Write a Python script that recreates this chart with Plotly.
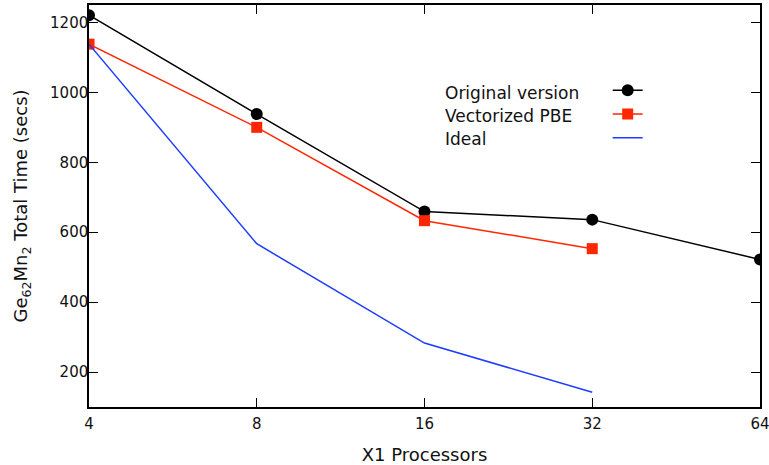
import plotly.graph_objects as go

processors = [4, 8, 16, 32, 64]
original = [1221, 938, 659, 636, 522]
vectorized = [1138, 900, 633, 553]
ideal = [1138, 567, 283, 142]
series_names = ["Original version", "Vectorized PBE", "Ideal"]
x_ticks = [4, 8, 16, 32, 64]
y_ticks = [200, 400, 600, 800, 1000, 1200]

FONT = "DejaVu Sans"
TXT = "#111"
fig = go.Figure()
fig.add_trace(go.Scatter(x=processors, y=original, mode="lines+markers", name="",
                         line=dict(color="black", width=1.5),
                         marker=dict(symbol="circle", size=12, color="black")))
fig.add_trace(go.Scatter(x=processors[:4], y=vectorized, mode="lines+markers", name="",
                         line=dict(color="#FF2600", width=1.5),
                         marker=dict(symbol="square", size=11, color="#FF2600")))
fig.add_trace(go.Scatter(x=processors[:4], y=ideal, mode="lines", name="",
                         line=dict(color="#1E3CFF", width=1.5)))

for i, name in enumerate(series_names):
    fig.add_annotation(text=name, xref="paper", yref="paper", x=0.5276, y=0.781 - i * 0.057,
                       xanchor="left", yanchor="middle", showarrow=False,
                       font=dict(family=FONT, size=17, color=TXT))

axis_common = dict(showline=True, linecolor="black", linewidth=1.5, mirror="allticks",
                   ticks="inside", ticklen=9, tickcolor="black", tickwidth=1,
                   showgrid=False, zeroline=False, ticklabeloverflow="allow",
                   tickfont=dict(family=FONT, size=15, color=TXT))
fig.update_xaxes(type="log", range=[2 * 0.30103, 6 * 0.30103], tickvals=x_ticks,
                 ticktext=[str(v) for v in x_ticks], ticklabelstandoff=2,
                 title=dict(text="X1 Processors", font=dict(family=FONT, size=18, color=TXT), standoff=18),
                 **axis_common)
fig.update_yaxes(range=[100, 1250], tickvals=y_ticks, ticklabelstandoff=-4,
                 title=dict(text="Ge<sub>62</sub>Mn<sub>2</sub> Total Time (secs)",
                            font=dict(family=FONT, size=18, color=TXT), standoff=18),
                 **axis_common)
fig.update_layout(width=769, height=465, margin=dict(l=89, r=9, t=5, b=58, autoexpand=False),
                  plot_bgcolor="white", paper_bgcolor="white",
                  showlegend=True,
                  legend=dict(x=0.773, y=0.83, xanchor="left", yanchor="top",
                              bgcolor="rgba(0,0,0,0)", font=dict(family=FONT, size=16),
                              tracegroupgap=0, itemwidth=30))
fig.write_html("out.html", config={"displayModeBar": False},
               post_script="document.body.style.margin='0';document.body.style.padding='0';")
